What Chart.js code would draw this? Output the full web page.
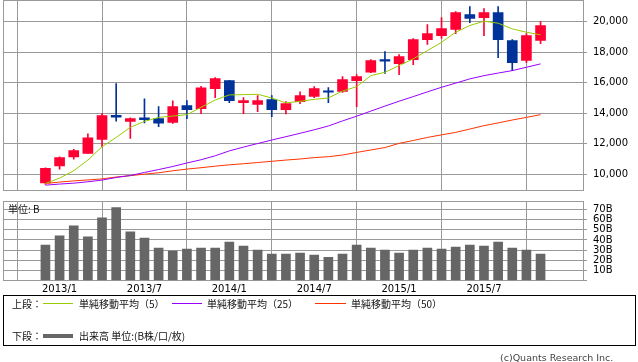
<!DOCTYPE html>
<html>
<head>
<meta charset="utf-8">
<script src="https://cdn.jsdelivr.net/npm/chart.js@4.4.1/dist/chart.umd.min.js"></script>
<style>
  body { margin: 0; background: #fff; }
  #wrap { position: relative; width: 638px; height: 362px; overflow: hidden;
          font-family: "Noto Sans CJK JP", sans-serif; color: #111; }
  #pbox { position: absolute; left: 0; top: 0; width: 638px; height: 191px; }
  #vbox { position: absolute; left: 0; top: 196px; width: 638px; height: 104px; }
  .t { position: absolute; font-size: 10px; line-height: 12px; white-space: nowrap; }
  .ln { position: absolute; height: 0; width: 30px; border-top: 1px solid; }
  #legend { position: absolute; left: 3px; top: 295px; width: 633px; height: 51px;
            box-sizing: border-box; border: 1px solid #000; }
  #copy { position: absolute; left: 500px; top: 352px; font: 9.5px "DejaVu Sans", sans-serif;
          line-height: 12px; color: #444; white-space: nowrap; }
</style>
</head>
<body>
<div id="wrap">
  <div id="pbox"><canvas id="price"></canvas></div>
  <div id="vbox"><canvas id="vol"></canvas></div>
  <div class="t" style="left:8px;top:203px;">単位: B</div>
  <div id="legend"></div>
  <div class="t" style="left:12px;top:298px;">上段：</div>
  <div class="ln" style="left:43px;top:303px;border-color:#99cc00;"></div>
  <div class="t" style="left:79px;top:298px;">単純移動平均（5）</div>
  <div class="ln" style="left:172px;top:303px;border-color:#9900ff;"></div>
  <div class="t" style="left:207px;top:298px;">単純移動平均（25）</div>
  <div class="ln" style="left:315px;top:303px;border-color:#ff3300;width:31px;"></div>
  <div class="t" style="left:351px;top:298px;">単純移動平均（50）</div>
  <div class="t" style="left:12px;top:330px;">下段：</div>
  <div class="ln" style="left:43px;top:334px;border-top:4px solid #666;"></div>
  <div class="t" style="left:79px;top:330px;">出来高 単位:(B株/口/枚)</div>
  <div id="copy">(c)Quants Research Inc.</div>
</div>
<script>
/* Monthly candles (Dec 2012 - Nov 2015) with 5/25/50 moving averages,
   volume panel below. */
var months = ["2012/12",
  "2013/1", "2013/2", "2013/3", "2013/4", "2013/5", "2013/6", "2013/7", "2013/8", "2013/9", "2013/10", "2013/11", "2013/12",
  "2014/1", "2014/2", "2014/3", "2014/4", "2014/5", "2014/6", "2014/7", "2014/8", "2014/9", "2014/10", "2014/11", "2014/12",
  "2015/1", "2015/2", "2015/3", "2015/4", "2015/5", "2015/6", "2015/7", "2015/8", "2015/9", "2015/10", "2015/11"];
var dateTicks = ["2013/1", "2013/7", "2014/1", "2014/7", "2015/1", "2015/7"];
var priceTicks = [10000, 12000, 14000, 16000, 18000, 20000];
var volTicks = [10, 20, 30, 40, 50, 60, 70];

var open = [9446, 10550, 11150, 11380, 12290, 13860, 13470, 13710, 13650, 13400, 14500, 14300,
  15610, 16140, 14700, 14580, 14890, 14240, 14760, 15100, 15470, 15430, 16140, 16680,
  17510, 17250, 17510, 18820, 19080, 19480, 20460, 20260, 20590, 18760, 17450, 18760];
var close = [10395, 11100, 11560, 12400, 13850, 13740, 13650, 13580, 13350, 14430, 14240, 15670,
  16270, 14830, 14830, 14830, 14240, 14630, 15150, 15610, 15380, 16200, 16400, 17450,
  17400, 17700, 18820, 19210, 19540, 20590, 20200, 20590, 18820, 17310, 19080, 19740];
var high = [10433, 11160, 11640, 12650, 13980, 15950, 13710, 14950, 14430, 14820, 14830, 15760,
  16330, 16160, 15020, 15150, 15150, 14760, 15410, 15740, 15680, 16400, 16530, 17510,
  18030, 17840, 18890, 19800, 20260, 20650, 20980, 20850, 20980, 18820, 19210, 20000];
var low = [9350, 10350, 11000, 11370, 11800, 13480, 12360, 13370, 13130, 13340, 13650, 13980,
  15020, 14690, 13980, 14100, 13780, 13960, 14630, 15020, 14700, 15370, 14430, 16650,
  16610, 16530, 17180, 18500, 18890, 19210, 19930, 19080, 17640, 16790, 17310, 18560];
var ma5 = [9410, 9760, 10240, 10940, 11810, 12420, 13080, 13470, 13730, 13820, 13910, 14390,
  14870, 15200, 15220, 15240, 15000, 14680, 14780, 14910, 15000, 15450, 15740, 16460,
  16680, 17120, 17560, 18100, 18640, 19300, 19740, 20020, 19890, 19520, 19300, 19130];
var ma25 = [9300, 9370, 9430, 9520, 9630, 9800, 9930, 10130, 10320, 10520, 10750, 10960,
  11220, 11540, 11790, 12020, 12250, 12470, 12690, 12920, 13170, 13500, 13810, 14140,
  14470, 14790, 15090, 15400, 15700, 15970, 16250, 16460, 16630, 16790, 17010, 17230];
var ma50 = [9410, 9500, 9580, 9640, 9710, 9830, 9920, 10020, 10110, 10240, 10350, 10440,
  10540, 10630, 10700, 10780, 10860, 10940, 11010, 11100, 11160, 11270, 11440, 11600,
  11760, 12030, 12220, 12420, 12590, 12750, 12970, 13190, 13370, 13560, 13730, 13910];
var volume = [35, 44, 54, 43, 62, 72, 48, 42, 32, 29, 31, 32,
  32, 38, 34, 30, 26, 26, 27, 25, 23, 26, 35, 32,
  30, 27, 30, 32, 31, 33, 35, 34, 38, 32, 30, 26];

(function () {
  "use strict";
  var GRID = "#999999", RED = "#ff0033", BLUE = "#003399";
  Chart.defaults.font.family = "'DejaVu Sans', sans-serif";
  Chart.defaults.font.size = 10;
  Chart.defaults.color = "#000";

  var tickIdx = dateTicks.map(function (t) { return months.indexOf(t); });
  var pts = function (arr) { return arr.map(function (v, i) { return { x: i, y: v }; }); };
  var colors = close.map(function (c, i) { return c >= open[i] ? RED : BLUE; });
  var setTicks = function (vals) {
    return function (s) { s.ticks = vals.map(function (v) { return { value: v }; }); };
  };
  // no label overhang padding: the plot boxes sit at fixed pixels
  var noPad = function (s) {
    s.paddingTop = 0; s.paddingBottom = 0; s.paddingLeft = 0; s.paddingRight = 0;
  };
  var frame = {
    id: "frame",
    beforeDatasetsDraw: function (chart) {
      var a = chart.chartArea, ctx = chart.ctx;
      ctx.save();
      ctx.strokeStyle = GRID;
      ctx.lineWidth = 1;
      ctx.strokeRect(Math.floor(a.left) + 0.5, Math.floor(a.top) + 0.5,
        Math.round(a.right - a.left), Math.round(a.bottom - a.top));
      ctx.restore();
    },
  };
  var xAxis = function (showLabels, height) {
    return {
      type: "linear", min: -3, max: 38, offset: false,
      afterBuildTicks: setTicks(tickIdx),
      afterFit: function (s) { s.height = height; noPad(s); },
      border: { display: false },
      grid: { color: GRID, drawTicks: false },
      ticks: {
        display: showLabels, autoSkip: false, maxRotation: 0, padding: 3,
        callback: function (v) { return months[v]; },
      },
    };
  };
  var yAxis = function (min, max, vals, fmt) {
    return {
      position: "right", min: min, max: max,
      afterBuildTicks: setTicks(vals),
      afterFit: function (s) { s.width = 55; noPad(s); },
      border: { display: false },
      grid: { color: GRID, tickLength: 4 },
      ticks: { padding: 6, autoSkip: false, callback: fmt },
    };
  };
  var line = function (arr, color) {
    return { type: "line", data: pts(arr), borderColor: color, borderWidth: 1,
             pointRadius: 0, tension: 0, order: 0 };
  };

  new Chart(document.getElementById("price"), {
    type: "bar",
    data: {
      datasets: [
        line(ma5, "#99cc00"),
        line(ma25, "#9900ff"),
        line(ma50, "#ff3300"),
        {
          data: months.map(function (m, i) { return { x: i, y: [open[i], close[i]] }; }),
          backgroundColor: colors, barThickness: 10, grouped: false, order: 1,
        },
        {
          data: months.map(function (m, i) { return { x: i, y: [low[i], high[i]] }; }),
          backgroundColor: colors, barThickness: 1, grouped: false, order: 2,
        },
      ],
    },
    options: {
      responsive: true, maintainAspectRatio: false, animation: false,
      devicePixelRatio: 1,
      layout: { autoPadding: false, padding: { left: 3, top: 0.5, right: 0, bottom: 0.5 } },
      plugins: { legend: { display: false }, tooltip: { enabled: false } },
      scales: {
        x: xAxis(false, 0),
        y: yAxis(8950, 21375, priceTicks, function (v) { return v.toLocaleString("en-US"); }),
      },
    },
    plugins: [frame],
  });

  new Chart(document.getElementById("vol"), {
    type: "bar",
    data: {
      datasets: [{
        data: pts(volume), backgroundColor: "#666666", barThickness: 9, grouped: false,
      }],
    },
    options: {
      responsive: true, maintainAspectRatio: false, animation: false,
      devicePixelRatio: 1,
      layout: { autoPadding: false, padding: { left: 3, top: 5.5, right: 0, bottom: 0 } },
      plugins: { legend: { display: false }, tooltip: { enabled: false } },
      scales: {
        x: xAxis(true, 19.5),
        y: yAxis(0, 78, [0].concat(volTicks), function (v) { return v ? v + "B" : ""; }),
      },
    },
    plugins: [frame],
  });
})();
</script>
</body>
</html>
